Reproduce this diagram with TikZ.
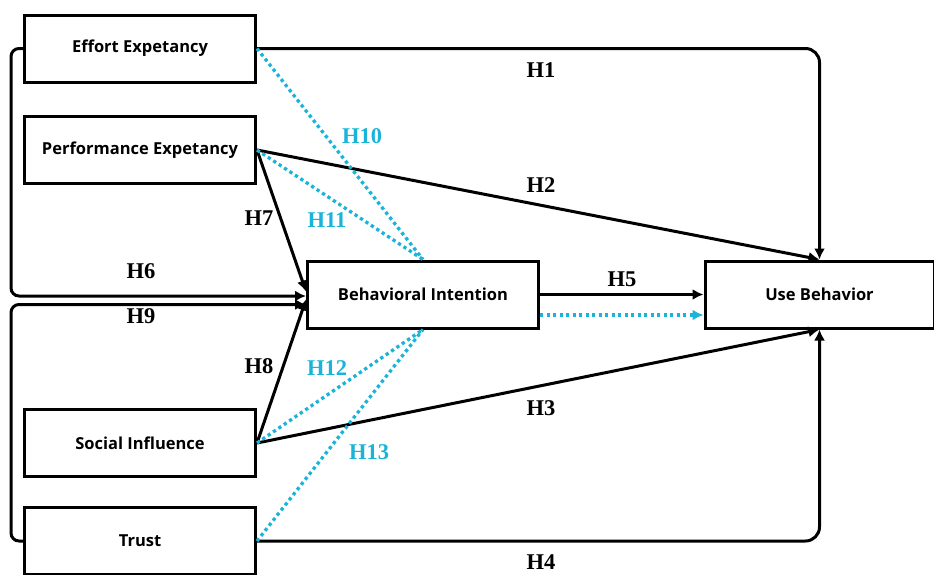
\documentclass[tikz,border=0pt]{standalone}
\usepackage{fontspec}
\setmainfont{Liberation Serif}
\newfontfamily\boxfont{Open Sans}
\usetikzlibrary{shapes,arrows.meta,positioning,calc}
\definecolor{hblue}{RGB}{27,180,216}

\begin{document}
\begin{tikzpicture}[x=1pt,y=-1pt,
		varbox/.style={draw,line width=3pt,minimum width=231pt,minimum height=67pt,inner sep=0pt,font=\boxfont\bfseries\fontsize{16.5}{18}\selectfont},
		hyp/.style={line width=3pt,-{Latex[length=11pt,width=11pt]}},
		hypb/.style={line width=3.3pt,color=hblue,dash pattern=on 3.3pt off 3.2pt},
		hlab/.style={font=\bfseries\fontsize{22.5}{24}\selectfont,inner sep=0pt},
		blab/.style={hlab,text=hblue}]
		\useasboundingbox (0,0) rectangle (934,574);
		% variables
		\node[varbox] (ee) at (140,48.5) {Effort Expetancy};
		\node[varbox] (pe) at (140,150) {Performance Expetancy};
		\node[varbox] (si) at (140,443) {Social Influence};
		\node[varbox] (tr) at (140,541) {Trust};
		\node[varbox] (bi) at (423,294.5) {Behavioral Intention};
		\node[varbox,minimum width=229pt] (ub) at (819.5,294.5) {Use Behavior};
		% direct paths to use behavior
		\draw[hyp,rounded corners=14pt] (ee.east) -| (ub.north);
		\draw[hyp] (pe.east) -- (ub.north);
		\draw[hyp] (si.east) -- (ub.south);
		\draw[hyp,rounded corners=14pt] (tr.east) -| (ub.south);
		\draw[hyp] (bi.east) -- (ub.west);
		% paths to behavioral intention
		\draw[hyp,rounded corners=8pt] (ee.west) -- ++(-12,0) |- ($(bi.west)+(0,1.5)$);
		\draw[hyp,rounded corners=8pt] (tr.west) -- ++(-12,0) |- ($(bi.west)+(0,10)$);
		\draw[hyp] (pe.east) -- ($(bi.west)+(0,-3)$);
		\draw[hyp] (si.east) -- ($(bi.west)+(0,5)$);
		% mediated paths
		\draw[hypb] (ee.east) -- (bi.north);
		\draw[hypb] (pe.east) -- (bi.north);
		\draw[hypb] (si.east) -- (bi.south);
		\draw[hypb] (tr.east) -- (bi.south);
		\draw[hypb,-{Latex[length=11pt,width=11pt]}] ($(bi.east)+(0,20.5)$) -- ($(ub.west)+(0,20.5)$);
		% labels
		\node[hlab] (h1) at (541,70) {H1};
		\node[hlab] (h2) at (541,185) {H2};
		\node[hlab] (h3) at (541,408) {H3};
		\node[hlab] (h4) at (541,562) {H4};
		\node[hlab] (h5) at (622,279) {H5};
		\node[hlab] (h6) at (141,271) {H6};
		\node[hlab] (h7) at (259,218) {H7};
		\node[hlab] (h8) at (259,366) {H8};
		\node[hlab] (h9) at (141,316) {H9};
		\node[blab] (h10) at (362,136) {H10};
		\node[blab] (h11) at (327,220) {H11};
		\node[blab] (h12) at (327,368) {H12};
		\node[blab] (h13) at (369,452) {H13};
	\end{tikzpicture}
\end{document}
